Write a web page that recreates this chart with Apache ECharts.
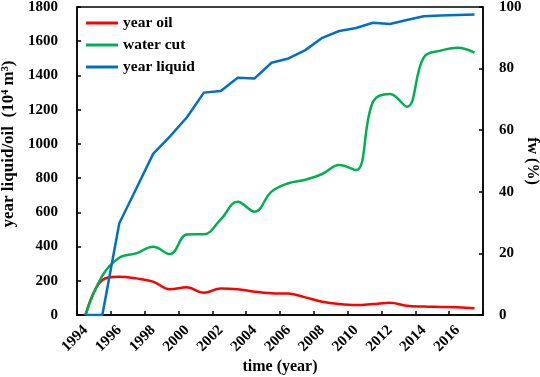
<!DOCTYPE html>
<html>
<head>
<meta charset="utf-8">
<script src="https://cdn.jsdelivr.net/npm/echarts@6/dist/echarts.min.js"></script>
<style>
  html, body { margin: 0; padding: 0; background: #fff; }
  #chart { width: 540px; height: 377px; }
</style>
</head>
<body>
<div id="chart"></div>
<script>
// years on the category axis
const years = ['1994', '1995', '1996', '1997', '1998', '1999', '2000', '2001', '2002', '2003', '2004', '2005',
  '2006', '2007', '2008', '2009', '2010', '2011', '2012', '2013', '2014', '2015', '2016', '2017']

// left axis, 10^4 m3
const yearOil = [0, 205, 224, 214, 195, 150, 162, 130, 155, 150, 136, 127,
  125, 103, 78, 64, 58, 64, 72, 54, 49, 47, 45, 39]
const waterCut = [0, 230, 335, 360, 399, 356, 471, 472, 559, 662, 604, 721,
  770, 790, 824, 877, 847, 1247, 1292, 1217, 1506, 1545, 1562, 1533]

// right axis, fw %
const yearLiquid = [0, 0, 29.8, 41, 52.3, 58, 64.2, 72.2, 72.7, 77.0, 76.8, 81.9,
  83.3, 86.0, 90.0, 92.2, 93.2, 94.9, 94.5, 95.8, 97.0, 97.2, 97.4, 97.6]

const font = 'Liberation Serif'
const txt = { fontFamily: font, fontWeight: 'bold', fontSize: 15, color: '#000' }
const axisLine = { show: true, lineStyle: { color: '#000', width: 1.5 } }
const axisTick = { show: true, inside: true, length: 4, lineStyle: { color: '#000', width: 1.5 } }

const chart = echarts.init(document.getElementById('chart'))

chart.setOption({
  animation: false,
  grid: {
    left: 77, right: 57, top: 7, bottom: 62,
    outerBoundsMode: 'none',
    containLabel: false,
    show: true, borderColor: '#000', borderWidth: 1.5
  },
  legend: {
    orient: 'vertical',
    left: 81,
    top: 10,
    itemWidth: 32,
    itemHeight: 3,
    itemGap: 6,
    icon: 'rect',
    textStyle: { ...txt, fontSize: 15.5 },
    data: ['year oil', 'water cut', 'year liquid']
  },
  xAxis: {
    type: 'category',
    data: years,
    boundaryGap: true,
    name: 'time (year)',
    nameLocation: 'middle',
    nameGap: 44,
    nameMoveOverlap: false,
    nameTextStyle: { ...txt, fontSize: 16 },
    axisLine,
    axisTick: { ...axisTick, interval: 1 },
    axisLabel: { ...txt, interval: 1, rotate: 45, margin: 13 },
    splitLine: { show: false }
  },
  yAxis: [
    {
      type: 'value',
      min: 0, max: 1800, interval: 200,
      name: 'year liquid/oil  (10\u2074 m\u00b3)',
      nameLocation: 'middle',
      nameGap: 60,
      nameTextStyle: { ...txt, fontSize: 17, padding: [0, 0, 0, 34] },
      axisLine,
      axisTick,
      axisLabel: { ...txt, margin: 19, formatter: (v) => String(v) },
      splitLine: { show: false }
    },
    {
      type: 'value',
      min: 0, max: 100, interval: 20,
      name: 'fw (%)',
      nameLocation: 'middle',
      nameGap: 41,
      nameRotate: -90,
      nameMoveOverlap: false,
      nameTextStyle: { ...txt, fontSize: 16 },
      axisLine,
      axisTick,
      axisLabel: { ...txt, margin: 16 },
      splitLine: { show: false }
    }
  ],
  series: [
    {
      name: 'year oil', type: 'line', data: yearOil, smooth: 0.4,
      symbol: 'none', lineStyle: { color: '#ff0000', width: 2.5 }, itemStyle: { color: '#ff0000' }
    },
    {
      name: 'water cut', type: 'line', data: waterCut, smooth: 0.4,
      symbol: 'none', lineStyle: { color: '#00b050', width: 2.5 }, itemStyle: { color: '#00b050' }
    },
    {
      name: 'year liquid', type: 'line', yAxisIndex: 1, data: yearLiquid,
      symbol: 'none', lineStyle: { color: '#0070c0', width: 2.5 }, itemStyle: { color: '#0070c0' }
    }
  ]
})
</script>
</body>
</html>
